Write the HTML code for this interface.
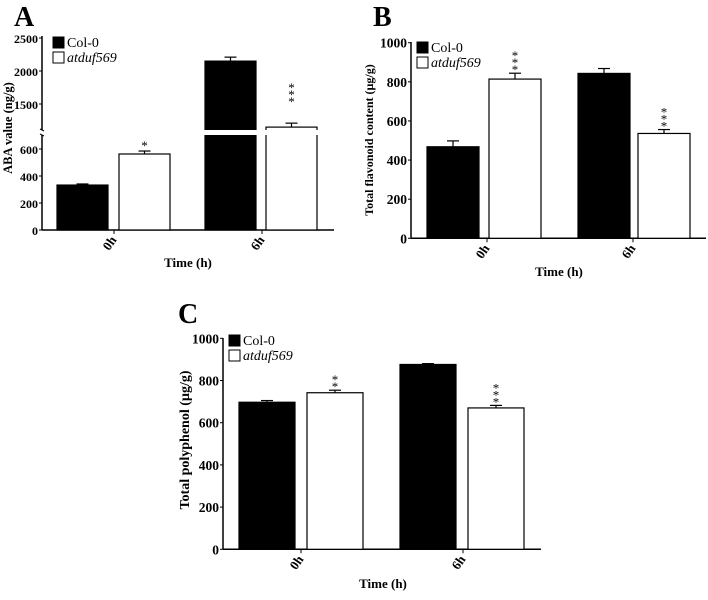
<!DOCTYPE html>
<html><head><meta charset="utf-8"><style>
html,body{margin:0;padding:0;background:#fff;}
svg text{font-family:"Liberation Serif",serif;font-weight:bold;fill:#000;}
</style></head><body>
<svg id="s" width="708" height="595" viewBox="0 0 708 595" xmlns="http://www.w3.org/2000/svg">
<text x="14" y="26" font-size="28">A</text>
<text x="373" y="26" font-size="28">B</text>
<text x="178" y="323" font-size="28">C</text>
</svg>
<script>
const categories = ["0h", "6h"];
const seriesNames = ["Col-0", "atduf569"];
const aCol = [333, 2150];
const aMut = [563, 1150];
const aColErr = [8, 60];
const aMutErr = [22, 60];
const aStars = ["", "*", "", "***"];
const aTicksLow = [0, 200, 400, 600];
const aTicksHigh = [1500, 2000, 2500];
const bCol = [468, 843];
const bMut = [814, 536];
const bColErr = [30, 25];
const bMutErr = [30, 20];
const bStars = ["", "***", "", "***"];
const bTicks = [0, 200, 400, 600, 800, 1000];
const cCol = [697, 876];
const cMut = [742, 670];
const cColErr = [8, 4];
const cMutErr = [12, 12];
const cStars = ["", "**", "", "***"];
const cTicks = [0, 200, 400, 600, 800, 1000];

const S = document.getElementById('s');
const NS = 'http://www.w3.org/2000/svg';
function mk(tag, attrs, txt) {
  const e = document.createElementNS(NS, tag);
  for (const k in attrs) e.setAttribute(k, attrs[k]);
  if (txt !== undefined) e.textContent = txt;
  S.appendChild(e);
  return e;
}

function panel(p) {
  const axisY = mk('line', {x1: p.ax, y1: p.axTop, x2: p.ax, y2: p.y0, stroke: '#000', 'stroke-width': 1.5});
  
  
  const axisX = mk('line', {x1: p.ax, y1: p.y0, x2: p.x1, y2: p.y0, stroke: '#000', 'stroke-width': 1.5});
  
  
  p.ticks.forEach(function (t) {
    const y = p.yfn(t);
    const tk = mk('line', {x1: p.ax - 3, y1: y, x2: p.ax, y2: y, stroke: '#000', 'stroke-width': 1});
    
    
    const tl = mk('text', {x: p.ax - 4, y: y + 5, 'font-size': p.tickSize, 'text-anchor': 'end'}, String(t));
    
    
  });
  const vals = [p.cols[0], p.muts[0], p.cols[1], p.muts[1]];
  const errs = [p.colErr[0], p.mutErr[0], p.colErr[1], p.mutErr[1]];
  vals.forEach(function (v, i) {
    const x = p.barX[i], w = p.barW;
    const top = p.yfn(v);
    const black = i % 2 === 0;
    const et = p.yfn(v + errs[i]);
    const eb = mk('line', {x1: x + w / 2, y1: et, x2: x + w / 2, y2: top, stroke: '#000', 'stroke-width': 1.2});
    
    
    const ec = mk('line', {x1: x + w / 2 - 6, y1: et, x2: x + w / 2 + 6, y2: et, stroke: '#000', 'stroke-width': 1.2});
    
    
    const r = mk('rect', {x: x, y: top, width: w, height: p.y0 - top, fill: black ? '#000' : '#fff', stroke: '#000', 'stroke-width': 1.2});
    
    
    if (p.stars[i]) {
      const st = p.stars[i];
      if (st.length > 1) {
        const base = (p.starLift ? et - p.starLift : et) - 1;
        for (let k = 0; k < st.length; k++) {
          const s = mk('text', {x: x + w / 2, y: base + 2 - k * 7, 'font-size': 13, 'text-anchor': 'middle', style: 'font-weight:normal'}, '*');
          
          
        }
      } else {
        const s = mk('text', {x: x + w / 2, y: et - 1, 'font-size': 13, 'text-anchor': 'middle', style: 'font-weight:normal'}, st);
        
        
      }
    }
  });
  categories.forEach(function (c, j) {
    const tx = p.tickX[j];
    const tk = mk('line', {x1: tx, y1: p.y0, x2: tx, y2: p.y0 + 4, stroke: '#000', 'stroke-width': 1});
    
    
    const tl = mk('text', {x: tx + 3, y: p.y0 + 10, 'font-size': 13, 'text-anchor': 'end', transform: 'rotate(-55 ' + (tx + 3) + ' ' + (p.y0 + 10) + ')'}, c);
    
    
  });
  const tt = mk('text', {x: p.timeX, y: p.timeY, 'font-size': 13, 'text-anchor': 'middle'}, 'Time (h)');
  
  
  const yt = mk('text', {x: p.titleX, y: p.titleY, 'font-size': p.titleSize, 'text-anchor': 'middle', transform: 'rotate(-90 ' + p.titleX + ' ' + p.titleY + ')'}, p.title);
  
  
  const l1 = mk('rect', {x: p.legX, y: p.legY, width: 11, height: 11, fill: '#000', stroke: '#000'});
  
  
  const lt1 = mk('text', {x: p.legX + 14, y: p.legY + 10, 'font-size': 14, style: 'font-weight:normal'}, 'Col-0');
  
  
  const l2 = mk('rect', {x: p.legX, y: p.legY + 15, width: 11, height: 11, fill: '#fff', stroke: '#000'});
  
  
  const lt2 = mk('text', {x: p.legX + 14, y: p.legY + 25, 'font-size': 14, style: 'font-weight:normal;font-style:italic'}, 'atduf569');
  
  
}

function yA(v) {
  if (v <= 700) return 230 - v * 0.135;
  return 104 - (v - 1500) * 0.066;
}
panel({id: 'panel-a', ax: 42, axTop: 36, x1: 334, y0: 230, yfn: yA, tickSize: 12,
  ticks: aTicksLow.concat(aTicksHigh), cols: aCol, muts: aMut, colErr: aColErr, mutErr: aMutErr,
  stars: aStars, starLift: 18, barX: [57, 119, 205, 266], barW: 51, tickX: [114, 262],
  title: 'ABA value (ng/g)', titleX: 12, titleY: 128, titleSize: 12.5, timeX: 188, timeY: 267, legX: 53, legY: 37});
const gap = mk('rect', {x: 40, y: 130, width: 290, height: 5, fill: '#fff'});


const brk = mk('path', {d: 'M40 129 L44 131 M40 134 L44 136', stroke: '#000', 'stroke-width': 1, fill: 'none'});



function yB(v) { return 238.3 - v * 0.1956; }
panel({id: 'panel-b', ax: 411, axTop: 42, x1: 706, y0: 238.3, yfn: yB, tickSize: 13.5,
  ticks: bTicks, cols: bCol, muts: bMut, colErr: bColErr, mutErr: bMutErr,
  stars: bStars, barX: [427, 489, 578, 638], barW: 52, tickX: [487, 633],
  title: 'Total flavonoid content (µg/g)', titleX: 373, titleY: 140, titleSize: 12, timeX: 559, timeY: 276, legX: 417, legY: 42});

function yC(v) { return 549.3 - v * 0.211; }
panel({id: 'panel-c', ax: 223, axTop: 338, x1: 541, y0: 549.3, yfn: yC, tickSize: 13.5,
  ticks: cTicks, cols: cCol, muts: cMut, colErr: cColErr, mutErr: cMutErr,
  stars: cStars, barX: [239, 307, 400, 468], barW: 56, tickX: [301, 463],
  title: 'Total polyphenol (µg/g)', titleX: 189, titleY: 440, titleSize: 14, timeX: 383, timeY: 588, legX: 229, legY: 335});
</script>
</body></html>
